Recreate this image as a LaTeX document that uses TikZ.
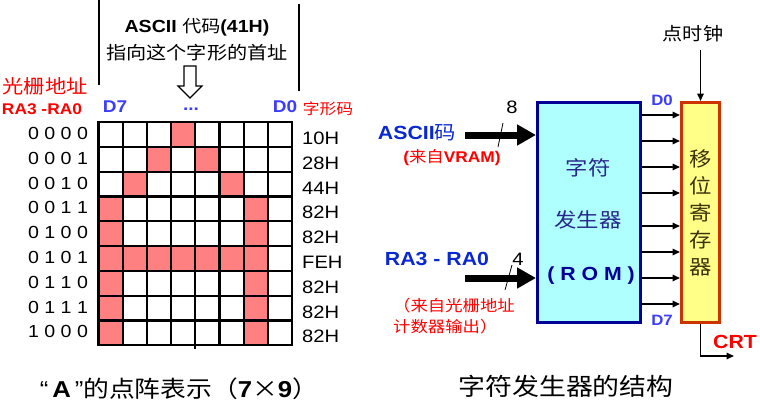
\documentclass[tikz,border=0pt]{standalone}
\usepackage{fontspec}
\setmainfont{Liberation Sans}[FakeStretch=1.12]
\newfontfamily\cjk{Noto Sans CJK SC}[FakeStretch=1.12]
\usepackage{xcolor}
\definecolor{dotred}{RGB}{255, 128, 128}
\definecolor{labelblue}{RGB}{60, 60, 255}
\definecolor{inblue}{RGB}{10, 40, 210}
\definecolor{romblue}{RGB}{0, 0, 153}
\definecolor{romfill}{RGB}{176, 255, 255}
\definecolor{romtext}{RGB}{40, 40, 140}
\definecolor{regfill}{RGB}{255, 255, 136}
\definecolor{regred}{RGB}{204, 51, 0}
\definecolor{regtext}{RGB}{60, 50, 10}
\usepackage{tikz}
\usetikzlibrary{arrows.meta, positioning, calc}

\newcommand{\fsz}[1]{\fontsize{#1}{#1}\selectfont}

\begin{document}
\begin{tikzpicture}[x=1pt, y=-1pt,
        gridline/.style={line width=2.2pt, line cap=rect},
        romblock/.style={rectangle, draw=romblue, fill=romfill, line width=3pt, minimum width=103pt, minimum height=220pt, inner sep=0pt},
        regblock/.style={rectangle, draw=regred, fill=regfill, line width=3pt, minimum width=38pt, minimum height=220pt, inner sep=0pt, align=center, text=regtext, font=\cjk\fontsize{20}{27}\selectfont},
        busin/.style={line width=7pt, -{Triangle[length=19pt, width=20pt]}},
        bitline/.style={line width=1.6pt, -{Triangle[length=7.5pt, width=6.5pt]}},
        redlabel/.style={text=red, inner sep=0pt},
        bluelabel/.style={text=labelblue, inner sep=0pt, font=\bfseries\fsz{17}}]

    \path[use as bounding box, fill=white] (0,0) rectangle (760,404);

    % dot matrix of the letter A
    \foreach \r/\addr/\hex/\cols in {0/0 0 0 0/10H/{3}, 1/0 0 0 1/28H/{2,4}, 2/0 0 1 0/44H/{1,5},
            3/0 0 1 1/82H/{0,6}, 4/0 1 0 0/82H/{0,6}, 5/0 1 0 1/FEH/{0,1,2,3,4,5,6},
            6/0 1 1 0/82H/{0,6}, 7/0 1 1 1/82H/{0,6}, 8/1 0 0 0/82H/{0,6}} {
        \foreach \c in \cols
            \fill[dotred] ({98.5+24.2*\c},{122+24.8*\r}) rectangle ++(24.2,24.8);
        \node[inner sep=0pt, font=\fsz{17.5}] (addr\r) at (58,{122+24.8*(\r+0.5)-1}) {\addr};
        \node[inner sep=0pt, anchor=west, font=\fsz{18}] (hex\r) at (302,{122+24.8*(\r+0.5)+4}) {\hex};
    }
    \foreach \c in {0,...,8}
        \draw[gridline] ({98.5+24.2*\c},122) -- ++(0,223.2);
    \foreach \r in {0,...,9}
        \draw[gridline] (98.5,{122+24.8*\r}) -- ++(193.6,0);
    \draw[line width=2pt] (195.3,345) -- (195.3,349);

    % heading over the matrix
    \draw[line width=2pt] (99,0) -- (99,85);
    \draw[line width=2pt] (299,4) -- (299,91);
    \node[inner sep=0pt, font=\bfseries\fsz{17.5}] (ascii41) at (197,27) {ASCII {\mdseries\cjk\fsz{17}代码}(41H)};
    \node[inner sep=0pt, font=\cjk\fsz{18}] (firstaddr) at (197,53) {指向这个字形的首址};
    \draw[line width=1.2pt, fill=white] (184,66) -- (196,66) -- (196,86) -- (202,86)
        -- (190,98) -- (178,86) -- (184,86) -- cycle;
    \node[bluelabel] (dots) at (191,109) {...};
    \node[bluelabel] (d7) at (115,107) {D7};
    \node[bluelabel] (d0) at (285,107) {D0};
    \node[redlabel, font=\cjk\fsz{15}] (glyphcode) at (328,109) {字形码};
    \node[redlabel, font=\cjk\fsz{19}] (rowaddr) at (45,86) {光栅地址};
    \node[redlabel, font=\bfseries\fsz{15.5}] (ra30) at (42,109) {RA3 -RA0};

    \node[inner sep=0pt, font=\fsz{23}] (dotcap) at (179,389) {“\,{\bfseries A}\,”{\cjk 的点阵表示（}{\bfseries 7}{\cjk ×}{\bfseries 9}{\cjk ）}};

    % character generator
    \node[romblock] (rom) at (589,212.5) {};
    \node[inner sep=0pt, text=romtext, font=\cjk\fsz{20}] (romname1) at (588,168) {字符};
    \node[inner sep=0pt, text=romtext, font=\cjk\fsz{20}] (romname2) at (588,220) {发生器};
    \node[inner sep=0pt, text=romblue, font=\bfseries\fsz{19}] (romname3) at (591,276) {( R O M )};

    \node[regblock] (sreg) at (700.5,212.5) {移\\位\\寄\\存\\器};

    \foreach \y in {115,141,167,193,226,252,278,304}
        \draw[bitline] (rom.east |- 0,\y) -- (sreg.west |- 0,\y);
    \node[bluelabel, font=\bfseries\fsz{15}] (outd0) at (662,100) {D0};
    \node[bluelabel, font=\bfseries\fsz{15}] (outd7) at (662,320) {D7};

    % inputs
    \coordinate (asciiin) at (465,135);
    \coordinate (rowin) at (465,278);
    \draw[busin] (asciiin) -- (rom.west |- asciiin);
    \draw[busin] (rowin) -- (rom.west |- rowin);
    \draw[line width=0.8pt] (503,123) -- (498,147);
    \draw[line width=0.8pt] (512,265) -- (505,290);
    \node[inner sep=0pt, font=\fsz{18}] (width8) at (512,107) {8};
    \node[inner sep=0pt, font=\fsz{18}] (width4) at (518,259) {4};
    \node[inner sep=0pt, text=inblue, font=\bfseries\fsz{19}] (asciiname) at (417,133) {ASCII{\mdseries\cjk 码}};
    \node[redlabel, font=\bfseries\fsz{15.5}] (fromvram) at (452,158) {({\mdseries\cjk 来自}VRAM)};
    \node[inner sep=0pt, text=inblue, font=\bfseries\fsz{19}] (raname) at (437,259) {RA3 - RA0};
    \node[redlabel, anchor=west, align=left, font=\cjk\fontsize{15.5}{21.5}\selectfont] (fromcnt) at (393,316) {（来自光栅地址\\计数器输出）};

    % clock and output
    \coordinate (clk) at (700.5,50);
    \coordinate (crt) at (734,356);
    \draw[bitline] (clk) -- (sreg.north);
    \draw[bitline] (sreg.south) |- (crt);
    \node[inner sep=0pt, font=\cjk\fsz{18}] (dotclk) at (693,34) {点时钟};
    \node[redlabel, font=\bfseries\fsz{19}] (crtname) at (735,342) {CRT};

    \node[inner sep=0pt, font=\cjk\fsz{24}] (gencap) at (566,386) {字符发生器的结构};
\end{tikzpicture}
\end{document}
